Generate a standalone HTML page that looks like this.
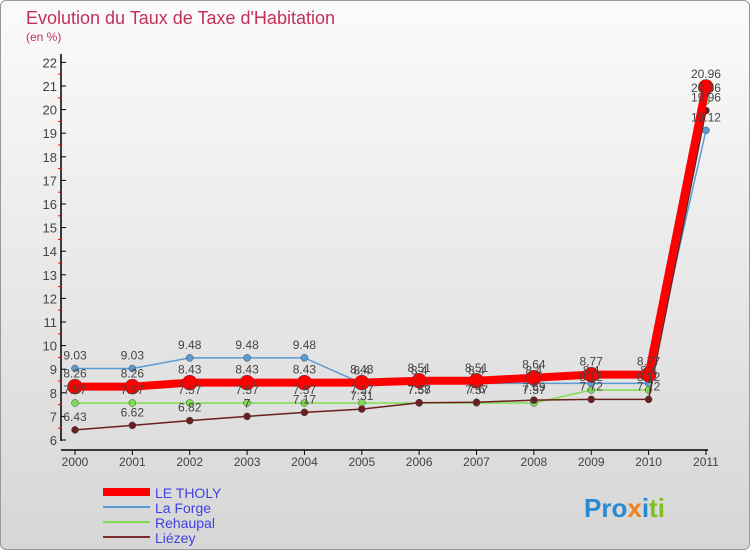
<!DOCTYPE html>
<html><head><meta charset="utf-8"><style>
body{margin:0;width:750px;height:550px;overflow:hidden;font-family:"Liberation Sans",sans-serif}
#wrap{position:absolute;left:0;top:0;width:748px;height:548px;border:1px solid #999;border-radius:6px;background:linear-gradient(#fbfbfb,#d6d6d6)}
</style></head><body>
<div id="wrap">
<svg id="chart" width="750" height="550" style="position:absolute;left:-1px;top:-1px">
<text x="26" y="24" font-size="18" fill="#c2305a">Evolution du Taux de Taxe d'Habitation</text>
<text x="26" y="41" font-size="12" fill="#c2305a">(en %)</text>
<g id="axes"></g><g id="series"></g><g id="labels"></g>
<g>
<line x1="103" y1="492" x2="150" y2="492" stroke="#f00" stroke-width="8"/>
<text x="155" y="498" font-size="14" fill="#4040e0">LE THOLY</text>
<line x1="103" y1="507" x2="150" y2="507" stroke="#5b9bd5" stroke-width="2"/>
<text x="155" y="513" font-size="14" fill="#4040e0">La Forge</text>
<line x1="103" y1="522" x2="150" y2="522" stroke="#7fdd50" stroke-width="2"/>
<text x="155" y="528" font-size="14" fill="#4040e0">Rehaupal</text>
<line x1="103" y1="537" x2="150" y2="537" stroke="#7a2a2a" stroke-width="2"/>
<text x="155" y="543" font-size="14" fill="#4040e0">Liézey</text>
</g>
<text x="584" y="517" font-size="26" font-weight="bold"><tspan fill="#2a8ad0">Pro</tspan><tspan fill="#f08020">x</tspan><tspan fill="#2a8ad0">i</tspan><tspan fill="#80c020">ti</tspan></text>
</svg></div>
<script>
const years=["2000","2001","2002","2003","2004","2005","2006","2007","2008","2009","2010","2011"];
const tholy=[8.26,8.26,8.43,8.43,8.43,8.43,8.51,8.51,8.64,8.77,8.77,20.96];
const forge=[9.03,9.03,9.48,9.48,9.48,8.4,8.4,8.4,8.4,8.4,8.4,19.12];
const rehaupal=[7.57,7.57,7.57,7.57,7.57,7.57,7.57,7.57,7.57,8.12,8.12,20.36];
const liezey=[6.43,6.62,6.82,7,7.17,7.31,7.58,7.6,7.69,7.72,7.72,19.96];
const yTicks=[6,7,8,9,10,11,12,13,14,15,16,17,18,19,20,21,22];
const NS="http://www.w3.org/2000/svg";
const X=i=>75+i*57.36, Y=v=>440-(v-6)*23.6;
function mk(t,a,p){const e=document.createElementNS(NS,t);for(const k in a)e.setAttribute(k,a[k]);p.appendChild(e);return e;}
const ax=document.getElementById('axes'),sg=document.getElementById('series'),lg=document.getElementById('labels');
let l=mk('line',{x1:61,y1:54,x2:61,y2:441,stroke:'#000','stroke-width':1.5},ax);


l=mk('line',{x1:61,y1:450,x2:708,y2:450,stroke:'#000','stroke-width':1.5},ax);


yTicks.forEach(v=>{
 mk('line',{x1:61,y1:Y(v),x2:66,y2:Y(v),stroke:'#000'},ax);
 if(v<22)mk('line',{x1:58,y1:Y(v+0.5),x2:61,y2:Y(v+0.5),stroke:'#f00'},ax);
 const t=mk('text',{x:57,y:Y(v)+5,'text-anchor':'end','font-size':13,fill:'#444'},ax);
 t.textContent=v;
 
 
});
years.forEach((y,i)=>{
 mk('line',{x1:X(i),y1:450,x2:X(i),y2:455,stroke:'#000'},ax);
 const t=mk('text',{x:X(i),y:466,'text-anchor':'middle','font-size':12,fill:'#444'},ax);
 t.textContent=y;
 
 
});
function draw(vals,color,w,r,name){
 const p=mk('polyline',{points:vals.map((v,i)=>X(i)+','+Y(v)).join(' '),fill:'none',stroke:color,'stroke-width':w},sg);
 
 
 vals.forEach((v,i)=>{
  const c=mk('circle',{cx:X(i),cy:Y(v),r:r,fill:color,stroke:'#444','stroke-width':0.5},sg);
  
  
  const t=mk('text',{x:X(i),y:Y(v)-9,'text-anchor':'middle','font-size':12,fill:'#444'},lg);
  t.textContent=v;
  
  
 });
}
draw(forge,'#5b9bd5',1.5,3.5,'la-forge');
draw(rehaupal,'#7fdd50',1.5,3.5,'rehaupal');
draw(liezey,'#6b1f1f',1.5,3.5,'liezey');
draw(tholy,'#f00',8,7.5,'le-tholy');
</script>
</body></html>
